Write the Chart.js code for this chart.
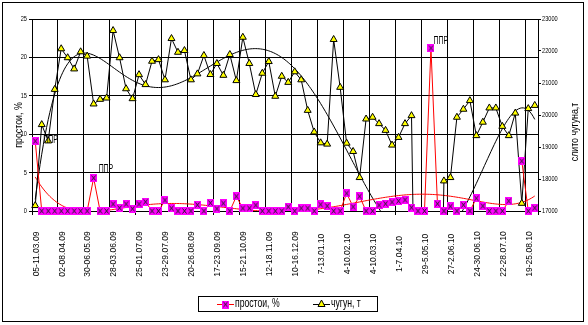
<!DOCTYPE html>
<html>
<head>
<meta charset="utf-8">
<script src="https://cdn.jsdelivr.net/npm/chart.js@4.4.1/dist/chart.umd.min.js"></script>
<style>
  html, body { margin: 0; padding: 0; background: #fff; }
</style>
</head>
<body>
<canvas id="chart" width="588" height="325"></canvas>
<script>
// weekly categories, 05-11.03.09 .. 26-1.09.10
const weeks = [
  '05-11.03.09', '12-18.03.09', '19-25.03.09', '26-01.04.09',
  '02-08.04.09', '09-15.04.09', '16-22.04.09', '23-29.04.09',
  '30-06.05.09', '07-13.05.09', '14-20.05.09', '21-27.05.09',
  '28-03.06.09', '04-10.06.09', '11-17.06.09', '18-24.06.09',
  '25-01.07.09', '02-08.07.09', '09-15.07.09', '16-22.07.09',
  '23-29.07.09', '30-05.08.09', '06-12.08.09', '13-19.08.09',
  '20-26.08.09', '27-02.09.09', '03-09.09.09', '10-16.09.09',
  '17-23.09.09', '24-30.09.09', '01-07.10.09', '08-14.10.09',
  '15-21.10.09', '22-28.10.09', '29-04.11.09', '05-11.11.09',
  '12-18.11.09', '19-25.11.09', '26-02.12.09', '03-09.12.09',
  '10-16.12.09', '17-23.12.09', '24-30.12.09', '31-6.01.10',
  '7-13.01.10', '14-20.01.10', '21-27.01.10', '28-3.02.10',
  '4-10.02.10', '11-17.02.10', '18-24.02.10', '25-3.03.10',
  '4-10.03.10', '11-17.03.10', '18-24.03.10', '25-31.03.10',
  '1-7.04.10', '8-14.04.10', '15-21.04.10', '22-28.04.10',
  '29-5.05.10', '6-12.05.10', '13-19.05.10', '20-26.05.10',
  '27-2.06.10', '3-9.06.10', '10-16.06.10', '17-23.06.10',
  '24-30.06.10', '1-7.07.10', '8-14.07.10', '15-21.07.10',
  '22-28.07.10', '29-4.08.10', '5-11.08.10', '12-18.08.10',
  '19-25.08.10', '26-1.09.10'
];

// простои, % (left axis)
const prostoi = [
  9.1, 0, 0, 0, 0, 0, 0, 0, 0, 4.3,
  0, 0, 0.9, 0.4, 0.9, 0.3, 0.9, 1.2, 0, 0,
  1.4, 0.35, 0, 0, 0, 0.8, 0, 1.05, 0.3, 1.0,
  0, 1.9, 0.35, 0.35, 0.75, 0, 0, 0, 0, 0.55,
  0, 0.35, 0.35, 0, 0.85, 0.65, 0, 0, 2.3, 0.55,
  1.9, 0, 0, 0.75, 0.95, 1.15, 1.3, 1.45, 0.45, 0,
  0, 21.2, 0.95, 0, 0.6, 0, 0.8, 0, 1.65, 0.65,
  0, 0, 0, 1.3, null, 6.5, 0, 0.4
];

// чугун, т (right axis); weeks 59-62 are off the scale (below 17000), estimated
const chugun = [
  17170, 19700, 19190, 20800, 22070, 21790, 21440, 21975, 21840, 20345,
  20490, 20530, 22640, 21790, 20820, 20510, 21260, 20950, 21680, 21730,
  21100, 22390, 21960, 22015, 21100, 21285, 21860, 21265, 21610, 21240,
  21890, 21075, 22430, 21610, 20640, 21305, 21670, 20585, 21210, 21020,
  21350, 21100, 20145, 19470, 19130, 19090, 22360, 20865, 19120, 18860,
  18045, 19875, 19930, 19730, 19520, 19060, 19300, 19730, 19980, 7000,
  7000, 7000, 7000, 17940, 18045, 19930, 20180, 20450, 19355, 19775,
  20220, 20220, 19645, 19355, 20060, 17240, 20200, 20300
];

// points carrying the "ППР" data label
const pprPoints = [0, 9, 61];

const FONT = "'Liberation Sans', Arial, sans-serif";

// polynomial trendline like Excel's (least squares)
function polyTrend(values, degree) {
  const n = values.length;
  const c = (n - 1) / 2;
  const m = degree + 1;
  const A = [];
  for (let r = 0; r < m; r++) A.push(new Array(m + 1).fill(0));
  values.forEach((v, i) => {
    if (v === null) return;
    const t = (i - c) / c;
    const pw = [1];
    for (let k = 1; k < 2 * m; k++) pw.push(pw[k - 1] * t);
    for (let r = 0; r < m; r++) {
      for (let q = 0; q < m; q++) A[r][q] += pw[r + q];
      A[r][m] += pw[r] * v;
    }
  });
  for (let col = 0; col < m; col++) {
    let piv = col;
    for (let r = col + 1; r < m; r++) if (Math.abs(A[r][col]) > Math.abs(A[piv][col])) piv = r;
    [A[col], A[piv]] = [A[piv], A[col]];
    for (let r = 0; r < m; r++) {
      if (r === col) continue;
      const f = A[r][col] / A[col][col];
      for (let q = col; q <= m; q++) A[r][q] -= f * A[col][q];
    }
  }
  const coef = A.map((row, r) => row[m] / row[r]);
  const pts = [];
  for (let x = 0; x <= n - 1 + 1e-9; x += 0.25) {
    const t = (x - c) / c;
    let y = 0, p = 1;
    for (let k = 0; k < m; k++) { y += coef[k] * p; p *= t; }
    pts.push({ x: x, y: y });
  }
  return pts;
}

function squareMarker() {
  const c = document.createElement('canvas');
  c.width = 7; c.height = 8;
  const g = c.getContext('2d');
  g.fillStyle = '#FF00FF';
  g.fillRect(0, 0, 7, 8);
  g.strokeStyle = '#222';
  g.lineWidth = 1;
  g.beginPath();
  g.moveTo(1.5, 1.5); g.lineTo(5.5, 6.5);
  g.moveTo(5.5, 1.5); g.lineTo(1.5, 6.5);
  g.stroke();
  return c;
}
const sqMark = squareMarker();

function squeezeText(ctx, text, x, y, size, sx, align, rot) {
  ctx.save();
  ctx.translate(x, y);
  if (rot) ctx.rotate(rot);
  ctx.scale(sx, 1);
  ctx.font = size + 'px ' + FONT;
  ctx.textAlign = align || 'left';
  ctx.textBaseline = 'middle';
  ctx.fillStyle = '#000';
  ctx.fillText(text, 0, 0);
  ctx.restore();
}

function drawTriangle(ctx, x, y) {
  ctx.save();
  ctx.beginPath();
  ctx.moveTo(x, y - 4);
  ctx.lineTo(x + 3.5, y + 2.5);
  ctx.lineTo(x - 3.5, y + 2.5);
  ctx.closePath();
  ctx.fillStyle = '#FFFF00';
  ctx.fill();
  ctx.strokeStyle = '#000';
  ctx.lineWidth = 1;
  ctx.stroke();
  ctx.restore();
}

const textPlugin = {
  id: 'excelTexts',
  afterDraw(chart) {
    const ctx = chart.ctx;
    const xs = chart.scales.x, yl = chart.scales.y, yr = chart.scales.y1;

    // category labels every 4 weeks
    weeks.forEach((w, i) => {
      if (i % 4) return;
      squeezeText(ctx, w, xs.getPixelForValue(i) + 1, 254, 8.5, 1, 'center', -Math.PI / 2);
    });
    yl.ticks.forEach(t => squeezeText(ctx, String(t.value), yl.right - 5, yl.getPixelForValue(t.value), 7.5, 0.75, 'right'));
    yr.ticks.forEach(t => squeezeText(ctx, String(t.value), yr.left + 4, yr.getPixelForValue(t.value), 7.5, 0.75, 'left'));

    // axis titles
    squeezeText(ctx, 'простои, %', 19, 125, 11, 0.8, 'center', -Math.PI / 2);
    squeezeText(ctx, 'слито чугуна,т', 575, 132, 11, 0.8, 'center', -Math.PI / 2);

    // ППР labels
    const off = { 0: [8, -1], 9: [5, -9], 61: [2.5, -7] };
    pprPoints.forEach(i => {
      const px = xs.getPixelForValue(i), py = yl.getPixelForValue(prostoi[i]);
      const o = off[i] || [4, -8];
      squeezeText(ctx, 'ППР', px + o[0], py + o[1], 11.5, 0.6, 'left');
    });

    // legend
    ctx.save();
    ctx.strokeStyle = '#000';
    ctx.lineWidth = 1;
    ctx.strokeRect(198.5, 296.5, 179, 15);
    const ly = 304;
    ctx.strokeStyle = '#FF0000';
    ctx.beginPath(); ctx.moveTo(217, ly + 0.5); ctx.lineTo(234, ly + 0.5); ctx.stroke();
    ctx.drawImage(sqMark, 222, ly - 3.5);
    ctx.strokeStyle = '#000';
    ctx.beginPath(); ctx.moveTo(313, ly + 0.5); ctx.lineTo(330, ly + 0.5); ctx.stroke();
    ctx.restore();
    drawTriangle(ctx, 321.5, ly);
    squeezeText(ctx, 'простои, %', 235, ly, 12, 0.72, 'left');
    squeezeText(ctx, 'чугун, т', 331, ly, 12, 0.72, 'left');

    // outer frame
    ctx.save();
    ctx.strokeStyle = '#000';
    ctx.lineWidth = 1;
    ctx.strokeRect(2.5, 2.5, 581, 319);
    ctx.restore();
  }
};

const gridAt = [];
for (let v = -0.5; v < weeks.length; v += 4) gridAt.push(v);
gridAt.push(weeks.length - 0.5);

new Chart(document.getElementById('chart'), {
  type: 'line',
  data: {
    datasets: [
      {
        label: 'простои, %',
        data: prostoi.map((v, i) => ({ x: i, y: v })),
        yAxisID: 'y',
        borderColor: '#FF0000',
        borderWidth: 1,
        pointStyle: sqMark,
        pointRadius: 4,
        tension: 0,
        clip: { left: 6, top: 6, right: 6, bottom: 8 },
        order: 0
      },
      {
        label: 'чугун, т',
        data: chugun.map((v, i) => ({ x: i, y: v })),
        yAxisID: 'y1',
        borderColor: '#000',
        borderWidth: 1,
        pointStyle: 'triangle',
        pointRadius: 4,
        pointBackgroundColor: '#FFFF00',
        pointBorderColor: '#000',
        pointBorderWidth: 1,
        tension: 0,
        clip: { left: 6, top: 6, right: 6, bottom: 0 },
        order: 1
      },
      {
        label: 'trend простои',
        data: polyTrend(prostoi, 6),
        yAxisID: 'y',
        borderColor: '#FF0000',
        borderWidth: 1,
        pointRadius: 0,
        tension: 0,
        order: 2
      },
      {
        label: 'trend чугун',
        data: polyTrend(chugun, 6),
        yAxisID: 'y1',
        borderColor: '#000',
        borderWidth: 1,
        pointRadius: 0,
        tension: 0,
        order: 3
      }
    ]
  },
  options: {
    responsive: false,
    animation: false,
    events: [],
    layout: { padding: { top: 19, left: 0, right: 0, bottom: 0 } },
    plugins: {
      legend: { display: false },
      tooltip: { enabled: false }
    },
    scales: {
      x: {
        type: 'linear',
        min: -0.5,
        max: weeks.length - 0.5,
        afterBuildTicks: s => { s.ticks = gridAt.map(v => ({ value: v })); },
        afterFit: s => { s.height = 114; },
        ticks: { display: false },
        grid: { color: '#000', lineWidth: 1, drawTicks: true, tickLength: 4 },
        border: { color: '#000' }
      },
      y: {
        position: 'left',
        min: 0,
        max: 25,
        ticks: { stepSize: 5, display: false },
        afterFit: s => { s.width = 32; },
        grid: { color: '#000', lineWidth: 1, tickLength: 3 },
        border: { color: '#000' }
      },
      y1: {
        position: 'right',
        min: 17000,
        max: 23000,
        ticks: { stepSize: 1000, display: false },
        afterFit: s => { s.width = 50; },
        grid: { drawOnChartArea: false, color: '#000', tickLength: 3 },
        border: { color: '#000' }
      }
    }
  },
  plugins: [textPlugin]
});
</script>
</body>
</html>
